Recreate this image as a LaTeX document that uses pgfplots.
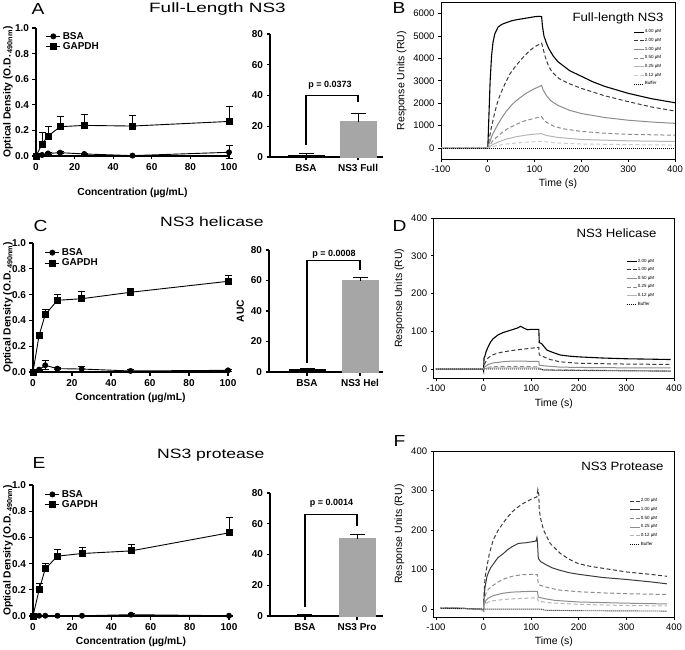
\documentclass[border=0pt]{standalone}
\usepackage{pgfplots}
\pgfplotsset{compat=1.18}
\usepackage{fontspec}
\usepackage{graphicx}
\setmainfont{Liberation Sans}
\definecolor{barg}{HTML}{A6A6A6}
\definecolor{g1}{HTML}{3A3A3A}
\definecolor{g2}{HTML}{8C8C8C}
\definecolor{g3}{HTML}{B4B4B4}
\definecolor{g4}{HTML}{CACACA}
\pgfplotsset{
 od/.style={
  scale only axis, clip=false,
  axis lines=left, axis line style={line width=1.1pt,-},
  xmin=0,xmax=100,ymin=0,ymax=1,
  xtick={0,20,40,60,80,100}, ytick={0,0.2,0.4,0.6,0.8,1.0},
  tick align=outside, major tick length=3.5pt,
  tick style={black,line width=1.1pt},
  /pgf/number format/assume math mode=true,
  tick label style={font=\bfseries\fontsize{10}{12}\selectfont},
  yticklabel={\pgfmathprintnumber[fixed,fixed zerofill,precision=1]{\tick}},
  xlabel={Concentration (µg/mL)},
  ylabel={Optical Density (O.D.\,\textsubscript{490nm})},
  label style={font=\bfseries\fontsize{10.3}{12}\selectfont},
  legend style={draw=none,fill=none,font=\bfseries\fontsize{10}{12}\selectfont,anchor=north west,inner sep=0pt,row sep=-2pt},
  legend cell align=left,
  legend image code/.code={\draw[mark repeat=2,mark phase=2,##1] plot coordinates {(0pt,0pt) (7pt,0pt) (14pt,0pt)};},
 },
 bsa/.style={black,line width=0.9pt,mark=*,mark size=2.5pt,
  error bars/y dir=both, error bars/y explicit, error bars/error bar style={line width=0.9pt}, error bars/error mark options={rotate=90,line width=0.9pt,mark size=3.5pt}},
 gap/.style={black,line width=0.9pt,mark=square*,mark size=3pt,
  error bars/y dir=plus, error bars/y explicit, error bars/error bar style={line width=0.9pt}, error bars/error mark options={rotate=90,line width=0.9pt,mark size=3.5pt}},
 auc/.style={
  scale only axis, clip=false,
  axis lines=left, axis line style={line width=1.1pt,-},
  ymin=0,ymax=80, ytick={0,20,40,60,80},
  xtick={0,1},
  tick align=outside, major tick length=3.5pt, tick style={black,line width=1.1pt},
  /pgf/number format/assume math mode=true,
  tick label style={font=\bfseries\fontsize{10}{12}\selectfont},
 },
 bar/.style={ybar, bar width=36pt, bar shift=0pt,
  error bars/y dir=plus, error bars/y explicit, error bars/error bar style={black,line width=1pt}, error bars/error mark options={rotate=90,black,line width=1pt,mark size=7.5pt}},
 brk/.style={black,line width=1.1pt,sharp plot,mark=none},
 spr/.style={
  scale only axis, clip=true,
  xmax=400, xtick={-100,0,100,200,300,400},
  axis line style={line width=0.9pt},
  xtick pos=left, ytick pos=left, tick align=outside, major tick length=3pt,
  tick style={black,line width=0.8pt},
  /pgf/number format/assume math mode=true,
  /pgf/number format/1000 sep={},
  scaled ticks=false,
  tick label style={font=\fontsize{9.5}{11}\selectfont},
  xlabel={Time (s)}, ylabel={Response Units (RU)},
  label style={font=\fontsize{10.5}{12}\selectfont},
  legend style={draw=none,fill=none,font=\fontsize{4.5}{5}\selectfont,anchor=north west,inner sep=0pt,row sep=2.8pt,nodes={inner sep=0.6pt}},
  legend cell align=left,
  legend image code/.code={\draw[##1] (0pt,0pt) -- (10pt,0pt);},
 },
 dsh/.style={dash pattern=on 4pt off 2.5pt},
 dot/.style={black,line width=0.9pt,dash pattern=on 1pt off 1pt},
}
\begin{document}
\begin{tikzpicture}[x=1pt,y=1pt]
\path[use as bounding box] (0,0) rectangle (685,649);
% ---- titles and letters
\node[anchor=base west,font=\fontsize{16}{18}\selectfont] at (28,634) {\scalebox{1.2}[1]{A}};
\node[anchor=base west,font=\fontsize{16}{18}\selectfont] at (389,635.5) {\scalebox{1.2}[1]{B}};
\node[anchor=base west,font=\fontsize{16}{18}\selectfont] at (30,417.3) {\scalebox{1.2}[1]{C}};
\node[anchor=base west,font=\fontsize{16}{18}\selectfont] at (389,417.3) {\scalebox{1.2}[1]{D}};
\node[anchor=base west,font=\fontsize{16}{18}\selectfont] at (29,180.7) {\scalebox{1.2}[1]{E}};
\node[anchor=base west,font=\fontsize{16}{18}\selectfont] at (390,203) {\scalebox{1.2}[1]{F}};
\node[anchor=base west,inner sep=0pt,font=\fontsize{13.5}{16}\selectfont] at (149,636) {\scalebox{1.4}[1]{Full-Length NS3}};
\node[anchor=base west,inner sep=0pt,font=\fontsize{13.5}{16}\selectfont] at (160,422.3) {\scalebox{1.3}[1]{NS3 helicase}};
\node[anchor=base west,inner sep=0pt,font=\fontsize{13.5}{16}\selectfont] at (157,190.7) {\scalebox{1.3}[1]{NS3 protease}};

% ================= A line
\begin{axis}[od, at={(36pt,493pt)}, anchor=south west, width=193pt, height=128pt,
  xlabel style={at={(axis description cs:0.5,0)},anchor=center,yshift=-37pt},
  ylabel style={at={(axis description cs:-0.145,0.5)},anchor=center},
  legend style={at={(0.05,0.985)}}]
\addplot[bsa] table[row sep=\\, y error=e] {x y e\\ 0 0 0\\ 3.125 0.008 0.004\\ 6.25 0.02 0.006\\ 12.5 0.026 0.006\\ 25 0.016 0.005\\ 50 0.003 0.004\\ 100 0.029 0.05\\};
\addlegendentry{BSA}
\addplot[gap] table[row sep=\\, y error=e] {x y e\\ 0 0 0\\ 3.125 0.094 0.088\\ 6.25 0.156 0.078\\ 12.5 0.229 0.077\\ 25 0.239 0.086\\ 50 0.234 0.083\\ 100 0.27 0.114\\};
\addlegendentry{GAPDH}
\end{axis}

% ================= A bar
\begin{axis}[auc, at={(270pt,492pt)}, anchor=south west, width=113pt, height=123pt,
  xmin=-0.692, xmax=1.48, xticklabels={BSA,NS3 Full}]
\addplot[fill=black, draw=black, bar] coordinates {(0,1.3) +- (0,1.1)};
\addplot[fill=barg, draw=barg, bar] coordinates {(1,23) +- (0,5.4)};
\addplot[brk] coordinates {(0,7.8) (0,40) (1,40) (1,36)};
\node[font=\bfseries\fontsize{9}{11}\selectfont] at (axis cs:0.46,46.8) {p = 0.0373};
\end{axis}

% ================= B SPR
\begin{axis}[spr, at={(441pt,489.8pt)}, anchor=south west, width=234pt, height=156.8pt,
  xmin=-100, ymin=-500, ymax=6500, ytick={0,1000,2000,3000,4000,5000,6000},
  legend style={at={(0.82,0.83)}}]
\addplot[black,line width=1.1pt] coordinates {(-100,0)(0,0)(2,1200)(5,3000)(8,4100)(11,4700)(15,5100)(22,5400)(30,5520)(40,5600)(51,5680)(60,5720)(80,5790)(100,5860)(110,5880)(115,5860)(117,5400)(120,5000)(125,4700)(130,4450)(140,4100)(150,3850)(175,3450)(200,3200)(225,2950)(250,2750)(300,2440)(350,2200)(400,2020)};
\addlegendentry{4.00 µM}
\addplot[g1,line width=1pt,dsh] coordinates {(-100,0)(0,0)(3,400)(8,950)(15,1600)(22,2140)(30,2550)(37,2880)(47,3300)(58,3620)(70,3920)(80,4150)(90,4350)(100,4520)(110,4630)(115,4680)(118,4450)(123,4050)(130,3650)(137,3400)(152,3100)(173,2880)(200,2660)(250,2330)(300,2070)(350,1830)(400,1650)};
\addlegendentry{2.00 µM}
\addplot[g2,line width=1pt] coordinates {(-100,0)(0,0)(3,200)(10,600)(20,1000)(30,1350)(40,1650)(50,1900)(60,2100)(80,2420)(100,2650)(112,2760)(115,2800)(118,2600)(125,2350)(135,2100)(150,1900)(175,1680)(200,1540)(250,1360)(300,1240)(350,1160)(400,1100)};
\addlegendentry{1.00 µM}
\addplot[g2,line width=1pt,dsh] coordinates {(-100,0)(0,0)(5,150)(10,300)(20,500)(30,680)(40,830)(60,1050)(80,1220)(100,1330)(115,1400)(118,1300)(125,1150)(140,980)(160,860)(200,740)(250,660)(300,610)(400,570)};
\addlegendentry{0.50 µM}
\addplot[g3,line width=1pt] coordinates {(-100,0)(0,0)(10,150)(20,250)(40,400)(60,500)(80,570)(100,620)(115,640)(125,560)(150,470)(200,380)(300,320)(400,290)};
\addlegendentry{0.25 µM}
\addplot[g4,line width=1pt,dsh] coordinates {(-100,0)(0,0)(10,60)(20,110)(40,180)(70,240)(100,280)(115,300)(125,270)(150,220)(200,180)(300,150)(400,130)};
\addlegendentry{0.12 µM}
\addplot[dot] coordinates {(-100,0)(400,0)};
\addlegendentry{Buffer}
\node[anchor=base east,font=\fontsize{12}{14}\selectfont] at (rel axis cs:0.966,0.88) {\scalebox{1.1}[1]{Full-length NS3}};
\end{axis}

% ================= C line
\begin{axis}[od, at={(33pt,277pt)}, anchor=south west, width=195pt, height=129pt,
  xlabel style={at={(axis description cs:0.5,0)},anchor=center,yshift=-26pt},
  ylabel style={at={(axis description cs:-0.128,0.5)},anchor=center},
  legend style={at={(0.06,0.975)}}]
\addplot[bsa] table[row sep=\\, y error=e] {x y e\\ 0 0 0\\ 3.125 0.018 0.005\\ 6.25 0.052 0.036\\ 12.5 0.026 0.008\\ 25 0.023 0.02\\ 50 0.008 0.015\\ 100 0.013 0.008\\};
\addlegendentry{BSA}
\addplot[gap] table[row sep=\\, y error=e] {x y e\\ 0 0 0\\ 3.125 0.284 0.015\\ 6.25 0.444 0.044\\ 12.5 0.556 0.049\\ 25 0.568 0.057\\ 50 0.618 0.028\\ 100 0.703 0.046\\};
\addlegendentry{GAPDH}
\end{axis}

% ================= C bar
\begin{axis}[auc, at={(269pt,277pt)}, anchor=south west, width=114pt, height=122pt,
  xmin=-0.717, xmax=1.434, xticklabels={BSA,NS3 Hel}, ylabel={AUC},
  ylabel style={font=\bfseries\fontsize{10.3}{12}\selectfont}]
\addplot[fill=black, draw=black, bar] coordinates {(0,1.8) +- (0,0.6)};
\addplot[fill=barg, draw=barg, bar] coordinates {(1,60) +- (0,2)};
\addplot[brk] coordinates {(0,5.9) (0,73) (1,73) (1,67)};
\node[font=\bfseries\fontsize{9}{11}\selectfont] at (axis cs:0.51,77.4) {p = 0.0008};
\end{axis}

% ================= D SPR
\begin{axis}[spr, at={(433.6pt,270.6pt)}, anchor=south west, width=240.4pt, height=160.4pt,
  xmin=-105, ymin=-25, ymax=400, ytick={0,100,200,300,400},
  legend style={at={(0.80,0.75)}}]
\addplot[black,line width=1.1pt] coordinates {(-100,0)(-1,0)(0,-5)(1,30)(3,35)(5,45)(10,60)(15,72)(20,80)(30,90)(40,96)(50,100)(60,104)(70,108)(78,113)(85,108)(92,104)(100,105)(110,105)(116,105)(117,70)(122,67)(133,50)(145,44)(161,37)(180,34)(200,32)(250,29)(300,27)(350,26)(393,25)};
\addlegendentry{2.00 µM}
\addplot[g1,line width=1pt,dsh] coordinates {(-100,0)(0,0)(1,10)(5,20)(10,30)(20,38)(30,42)(40,45)(60,49)(80,52)(100,55)(116,57)(117,37)(125,33)(140,25)(160,19)(200,15)(300,13)(393,12)};
\addlegendentry{1.00 µM}
\addplot[g2,line width=1pt] coordinates {(-100,0)(0,0)(2,5)(10,12)(20,16)(40,19)(60,21)(80,21)(100,20)(116,20)(117,10)(130,8)(160,5)(200,4)(300,3)(393,3)};
\addlegendentry{0.50 µM}
\addplot[g2,line width=1pt,dsh] coordinates {(-100,0)(0,0)(5,4)(20,6)(50,7)(100,6)(116,5)(117,0)(140,-2)(200,-3)(300,-4)(393,-5)};
\addlegendentry{0.25 µM}
\addplot[g3,line width=1pt] coordinates {(-100,0)(0,0)(5,2)(30,3)(100,3)(116,3)(117,-1)(150,-3)(250,-4)(393,-5)};
\addlegendentry{0.12 µM}
\addplot[dot] coordinates {(-100,0)(0,0)(120,0)(125,-3)(200,-4)(393,-6)};
\addlegendentry{Buffer}
\node[anchor=base east,font=\fontsize{12}{14}\selectfont] at (rel axis cs:0.942,0.88) {\scalebox{1.1}[1]{NS3 Helicase}};
\end{axis}

% ================= E line
\begin{axis}[od, at={(33pt,33pt)}, anchor=south west, width=196pt, height=131pt,
  xlabel style={at={(axis description cs:0.5,0)},anchor=center,yshift=-26pt},
  ylabel style={at={(axis description cs:-0.128,0.5)},anchor=center},
  legend style={at={(0.06,0.977)}}]
\addplot[bsa] table[row sep=\\, y error=e] {x y e\\ 0 0 0\\ 3.125 0.002 0.002\\ 6.25 0.002 0.002\\ 12.5 0.002 0.002\\ 25 0.002 0.002\\ 50 0.01 0.012\\ 100 0.002 0.002\\};
\addlegendentry{BSA}
\addplot[gap] table[row sep=\\, y error=e] {x y e\\ 0 0 0\\ 3.125 0.2 0.047\\ 6.25 0.36 0.045\\ 12.5 0.457 0.053\\ 25 0.477 0.046\\ 50 0.497 0.051\\ 100 0.635 0.115\\};
\addlegendentry{GAPDH}
\end{axis}

% ================= E bar
\begin{axis}[auc, at={(270pt,33pt)}, anchor=south west, width=113pt, height=123pt,
  xmin=-0.673, xmax=1.5, xticklabels={BSA,NS3 Pro}]
\addplot[fill=black, draw=black, bar] coordinates {(0,0.5) +- (0,0.2)};
\addplot[fill=barg, draw=barg, bar] coordinates {(1,50.3) +- (0,2.6)};
\addplot[brk] coordinates {(0,6) (0,66) (1,66) (1,58.5)};
\node[font=\bfseries\fontsize{9}{11}\selectfont] at (axis cs:0.51,73.5) {p = 0.0014};
\end{axis}

% ================= F SPR
\begin{axis}[spr, at={(433.6pt,32pt)}, anchor=south west, width=240.4pt, height=166pt,
  xmin=-105, ymin=-20, ymax=400, ytick={0,100,200,300,400},
  legend style={at={(0.813,0.717)}}]
\addplot[g1,line width=1pt,dsh] coordinates {(-90,4)(-50,2)(-5,0)(0,-5)(1,40)(3,80)(7,107)(12,140)(20,174)(30,198)(40,216)(50,232)(60,246)(70,256)(80,265)(90,272)(100,278)(112,284)(114,302)(116,290)(117,250)(120,228)(126,200)(140,166)(161,141)(180,126)(199,115)(225,108)(252,103)(300,94)(350,88)(385,83)};
\addlegendentry{2.00 µM}
\addplot[g1,line width=1pt] coordinates {(-90,4)(-5,0)(0,-5)(1,30)(3,55)(7,82)(10,92)(15,105)(21,115)(30,130)(42,141)(50,150)(60,158)(73,166)(80,167)(90,168)(100,170)(110,172)(112,181)(113,172)(115,128)(120,120)(133,111)(145,104)(161,98)(180,92)(200,88)(250,80)(300,75)(350,69)(385,64)};
\addlegendentry{1.00 µM}
\addplot[g2,line width=1pt,dsh] coordinates {(-90,4)(-5,0)(0,-5)(1,20)(5,40)(10,50)(20,60)(30,68)(40,75)(60,83)(80,87)(100,88)(113,87)(115,62)(125,58)(140,53)(160,48)(200,44)(250,41)(300,39)(385,37)};
\addlegendentry{0.50 µM}
\addplot[g2,line width=1pt] coordinates {(-90,4)(-5,0)(0,-5)(1,10)(5,22)(10,28)(20,34)(40,40)(60,43)(80,44)(100,45)(113,45)(115,30)(130,26)(150,22)(200,18)(300,15)(385,13)};
\addlegendentry{0.25 µM}
\addplot[g3,line width=1pt,dsh] coordinates {(-90,4)(-5,0)(0,-5)(1,8)(5,14)(10,18)(20,21)(40,24)(60,26)(80,27)(100,28)(113,29)(115,20)(140,16)(200,12)(300,9)(385,8)};
\addlegendentry{0.12 µM}
\addplot[dot] coordinates {(-90,2)(0,0)(120,0)(130,-3)(200,-4)(385,-5)};
\addlegendentry{Buffer}
\node[anchor=base east,font=\fontsize{12}{14}\selectfont] at (rel axis cs:0.971,0.885) {\scalebox{1.1}[1]{NS3 Protease}};
\end{axis}
\end{tikzpicture}
\end{document}
